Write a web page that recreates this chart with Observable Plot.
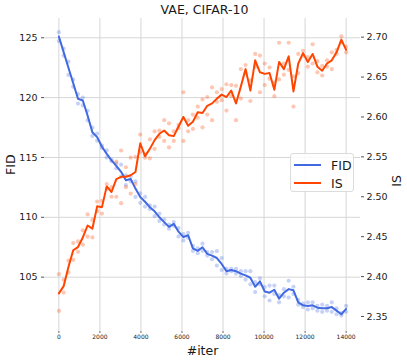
<!DOCTYPE html>
<html>
<head>
<meta charset="utf-8">
<script src="https://cdn.jsdelivr.net/npm/d3@7"></script>
<script src="https://cdn.jsdelivr.net/npm/@observablehq/plot@0.6"></script>
<style>
  html, body { margin: 0; padding: 0; background: #fff; }
  #wrap { position: relative; width: 407px; height: 361px; font-family: "DejaVu Sans", sans-serif; }
  #title { height: 17px; line-height: 19px; text-align: center; font-size: 12.5px; color: #1a1a1a; padding-left: 2px; }
  #legend { position: absolute; left: 290px; top: 153px; width: 64px; height: 39px; box-sizing: border-box;
            border: 1px solid #dcdcdc; border-radius: 3px; background: rgba(255,255,255,0.85); font-size: 12.5px; color: #1a1a1a; }
  .row { position: absolute; left: 3px; height: 16px; display: flex; align-items: center; }
  .sw { width: 27px; height: 0; border-top: 2px solid; margin-right: 10px; }
</style>
</head>
<body>
<div id="wrap">
  <div id="title">VAE, CIFAR-10</div>
  <div id="chart"></div>
  <div id="legend">
    <div class="row" style="top:3px"><div class="sw" style="border-color:#4169e1"></div><span>FID</span></div>
    <div class="row" style="top:21px"><div class="sw" style="border-color:#ff4500"></div><span>IS</span></div>
  </div>
</div>
<script>
const iters = [0,233,467,700,933,1167,1400,1633,1867,2100,2333,2567,2800,3033,3267,3500,3733,3967,4200,4433,
  4667,4900,5133,5367,5600,5833,6067,6300,6533,6767,7000,7233,7467,7700,7933,8167,8400,8633,8867,9100,
  9333,9567,9800,10033,10267,10500,10733,10967,11200,11433,11667,11900,12133,12367,12600,12833,13067,13300,13533,13767,14000];

const fidLine = [125.1,123.8,122.5,121.2,119.9,119.76,118.5,117.1,116.7,115.9,
  115.3,114.75,114.3,113.8,113.1,113.2,112.4,111.7,111.3,110.85,
  110.5,110.0,109.6,109.2,109.45,108.8,108.35,108.5,107.4,107.2,
  107.5,106.95,106.8,106.6,106.1,105.5,105.6,105.5,105.3,105.15,
  104.95,104.2,104.65,103.8,103.7,103.95,103.2,103.7,104.0,103.9,
  102.9,102.65,102.6,102.65,102.45,102.4,102.4,102.5,102.2,101.9,102.35];
const fidRunA = [125.47,124.1,123.0,121.5,120.3,120.0,118.9,117.5,117.0,116.0,
  115.6,114.8,114.5,114.4,113.5,113.4,113.0,112.0,111.7,111.0,
  110.9,110.3,109.8,109.4,109.6,109.1,108.6,108.7,107.6,107.4,
  107.8,107.1,107.1,107.17,106.6,105.7,105.7,105.7,105.5,105.5,
  105.5,104.58,104.9,104.17,104.3,104.3,103.5,104.0,104.7,104.2,
  103.1,102.8,102.9,102.9,102.6,102.7,102.6,102.9,102.4,102.0,102.6];
const fidRunB = [124.72,123.5,121.9,120.9,119.5,119.35,118.1,116.8,116.4,115.8,
  115.0,114.7,114.1,113.4,112.7,113.0,111.7,111.2,110.9,110.7,
  110.1,109.7,109.4,109.05,109.3,108.4,108.07,108.3,107.2,107.0,
  107.2,106.8,106.5,105.97,105.6,105.3,105.5,105.3,105.1,104.8,
  104.4,103.75,104.4,103.4,103.05,103.6,102.9,103.4,103.3,103.6,
  102.7,102.5,102.3,102.4,102.2,102.1,102.2,102.1,101.9,101.8,102.1];

const isLine = [2.379,2.388,2.412,2.433,2.437,2.449,2.464,2.460,2.488,2.487,
  2.513,2.506,2.522,2.525,2.525,2.527,2.531,2.567,2.551,2.560,
  2.571,2.579,2.583,2.577,2.576,2.588,2.600,2.589,2.594,2.606,
  2.605,2.614,2.617,2.623,2.628,2.625,2.633,2.617,2.638,2.660,
  2.633,2.671,2.656,2.654,2.655,2.634,2.669,2.660,2.676,2.632,
  2.667,2.680,2.669,2.679,2.663,2.658,2.667,2.671,2.681,2.697,2.684];
const isRunA = [2.403,2.396,2.420,2.442,2.444,2.458,2.478,2.471,2.494,2.495,
  2.516,2.512,2.544,2.558,2.537,2.549,2.550,2.578,2.553,2.572,
  2.582,2.583,2.596,2.592,2.582,2.590,2.631,2.596,2.603,2.613,
  2.622,2.625,2.637,2.631,2.635,2.641,2.640,2.639,2.660,2.665,
  2.646,2.679,2.677,2.667,2.662,2.643,2.693,2.667,2.693,2.651,
  2.679,2.683,2.675,2.691,2.670,2.664,2.671,2.681,2.684,2.701,2.688];
const isRunB = [2.357,2.380,2.405,2.421,2.431,2.440,2.450,2.449,2.482,2.479,
  2.510,2.500,2.500,2.492,2.512,2.504,2.516,2.556,2.549,2.548,
  2.560,2.575,2.570,2.562,2.570,2.586,2.570,2.582,2.585,2.599,
  2.587,2.603,2.596,2.619,2.621,2.608,2.626,2.596,2.623,2.655,
  2.620,2.663,2.631,2.640,2.648,2.626,2.647,2.653,2.659,2.613,
  2.655,2.677,2.663,2.667,2.656,2.652,2.663,2.660,2.679,2.693,2.681];

const xTicks = [0,2000,4000,6000,8000,10000,12000,14000];
const fidTicks = [105,110,115,120,125];
const isTicks = [2.35,2.40,2.45,2.50,2.55,2.60,2.65,2.70];

// IS values are placed on the FID scale (twin axis)
const isToFid = v => 125.05 - (2.70 - v) * 66.67;
const fidToIs = f => (f - 125.05) / 66.67 + 2.70;

const table = iters.map((it, i) => ({iter: it, fid: fidLine[i], is: isLine[i]}));
const fidDots = iters.flatMap((it, i) => [{iter: it, v: fidRunA[i]}, {iter: it, v: fidRunB[i]}]);
const isDots = iters.flatMap((it, i) => [{iter: it, v: isRunA[i]}, {iter: it, v: isRunB[i]}]);

const BLUE = "#4169e1", ORANGE = "#ff4500";

const chart = Plot.plot({
  width: 407,
  height: 344,
  marginTop: 1,
  marginBottom: 30,
  marginLeft: 44,
  marginRight: 47,
  style: {fontFamily: "DejaVu Sans, sans-serif", fontSize: "9.5px", background: "white", color: "#1a1a1a"},
  x: {domain: [-700, 14700]},
  y: {domain: [100.46, 126.61]},
  marks: [
    Plot.gridX({ticks: xTicks, stroke: "#d6d6d6", strokeOpacity: 1, strokeWidth: 1}),
    Plot.gridY({ticks: fidTicks, stroke: "#d6d6d6", strokeOpacity: 1, strokeWidth: 1}),
    Plot.axisX({ticks: xTicks, tickSize: 2, tickPadding: 1.5, fontSize: 6, label: null, stroke: "#666", tickFormat: d => String(d)}),
    Plot.axisY({ticks: fidTicks, anchor: "left", tickSize: 3, tickPadding: 4, fontSize: 9.5, label: null, stroke: "#555"}),
    Plot.axisY({ticks: isTicks.map(isToFid), anchor: "right", tickSize: 3, tickPadding: 3, fontSize: 9.5, label: null, stroke: "#555",
      tickFormat: d => fidToIs(d).toFixed(2)}),
    Plot.dot(fidDots, {x: "iter", y: "v", r: 2.1, fill: BLUE, fillOpacity: 0.3, stroke: "none"}),
    Plot.line(table, {x: "iter", y: "fid", stroke: BLUE, strokeWidth: 2}),
    Plot.dot(isDots, {x: "iter", y: d => isToFid(d.v), r: 2.1, fill: ORANGE, fillOpacity: 0.3, stroke: "none"}),
    Plot.line(table, {x: "iter", y: d => isToFid(d.is), stroke: ORANGE, strokeWidth: 2}),
    Plot.text(["#iter"], {frameAnchor: "bottom", dy: 19, fontSize: 12.5, lineAnchor: "middle", fill: "#1a1a1a"}),
    Plot.text(["FID"], {frameAnchor: "left", dx: -34, rotate: -90, fontSize: 12.5, lineAnchor: "middle", fill: "#1a1a1a"}),
    Plot.text(["IS"], {frameAnchor: "right", dx: 36, rotate: -90, fontSize: 12.5, lineAnchor: "middle", fill: "#1a1a1a"})
  ]
});
document.getElementById("chart").appendChild(chart);
</script>
</body>
</html>
